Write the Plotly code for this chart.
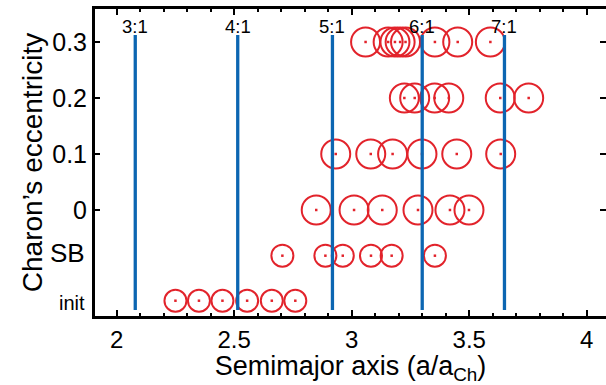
import plotly.graph_objects as go

# ---- data ----
row_labels = ["init", "SB", "0", "0.1", "0.2", "0.3"]
row_y = [-0.162, -0.0816, 0.0, 0.1, 0.2, 0.3]

init_x = [2.25, 2.35, 2.45, 2.555, 2.66, 2.76]
sb_x = [2.705, 2.888, 2.962, 3.082, 3.170, 3.354]
e00_x = [2.849, 3.010, 3.130, 3.282, 3.418, 3.499]
e01_x = [2.932, 3.081, 3.174, 3.299, 3.447, 3.634]
e02_x = [3.224, 3.268, 3.353, 3.413, 3.632, 3.753]
e03_x = [3.059, 3.155, 3.184, 3.206, 3.229, 3.354, 3.451, 3.590]

res_labels = ["3:1", "4:1", "5:1", "6:1", "7:1"]
res_x = [2.079, 2.515, 2.918, 3.300, 3.650]

x_ticks = [2, 2.5, 3, 3.5, 4]
x_ticktext = ["2", "2.5", "3", "3.5", "4"]
y_ticks = [0, 0.1, 0.2, 0.3]
y_ticktext = ["0", "0.1", "0.2", "0.3"]

# ---- style ----
RED = "#e2232b"
BLUE = "#0c66b2"
FONT = "Liberation Sans, Arial, sans-serif"
XR = [1.9077, 4.082]
YR = [-0.1893, 0.3589]
LINE_TOP = 0.3125
LINE_BOT = -0.1786
LABEL_Y = 0.327

rows = [init_x, sb_x, e00_x, e01_x, e02_x, e03_x]
sizes = [22, 22, 29, 29, 29, 29]

fig = go.Figure()
for xs, y, s in zip(rows, row_y, sizes):
    fig.add_trace(go.Scatter(
        x=xs, y=[y] * len(xs), mode="markers",
        marker=dict(symbol="circle-open", size=s, color=RED, line=dict(width=2, color=RED)),
        showlegend=False, hoverinfo="skip"))
    fig.add_trace(go.Scatter(
        x=xs, y=[y] * len(xs), mode="markers",
        marker=dict(symbol="square", size=2.5, color=RED, line=dict(width=0)),
        showlegend=False, hoverinfo="skip"))

for rx, lab in zip(res_x, res_labels):
    fig.add_trace(go.Scatter(
        x=[rx, rx], y=[LINE_BOT, LINE_TOP], mode="lines",
        line=dict(color=BLUE, width=3.3), showlegend=False, hoverinfo="skip"))
    fig.add_annotation(x=rx, y=LABEL_Y, text=lab, showarrow=False,
                       xanchor="center", yanchor="middle",
                       font=dict(family=FONT, size=18.5, color="black"))

# invisible trace so the right-side tick axis is drawn
fig.add_trace(go.Scatter(x=[None], y=[None], yaxis="y2", showlegend=False, hoverinfo="skip"))

for lab, y, fs in [("SB", row_y[1] + 0.004, 26), ("init", row_y[0] - 0.004, 20)]:
    fig.add_annotation(xref="paper", x=0, xshift=-8, y=y, text=lab, showarrow=False,
                       xanchor="right", yanchor="middle",
                       font=dict(family=FONT, size=fs, color="black"))

fig.update_layout(
    width=606, height=385,
    margin=dict(l=95, r=0, t=9, b=69),
    paper_bgcolor="white", plot_bgcolor="white",
    font=dict(family=FONT, color="black"),
    xaxis=dict(
        range=XR, tickvals=x_ticks, ticktext=x_ticktext,
        ticks="inside", ticklen=6, tickwidth=2, tickcolor="black",
        showline=True, linewidth=3, linecolor="black", mirror="ticks",
        showgrid=False, zeroline=False,
        minor=dict(dtick=0.1, tick0=2, ticks="inside", ticklen=3, tickwidth=2, tickcolor="black", showgrid=False),
        tickfont=dict(size=24, family=FONT),
        title=dict(text="Semimajor axis (a/a<sub>Ch</sub>)", font=dict(size=27, family=FONT), standoff=2),
    ),
    yaxis=dict(
        range=YR, tickvals=y_ticks, ticktext=y_ticktext,
        ticks="inside", ticklen=5, tickwidth=2, tickcolor="black",
        showline=True, linewidth=3, linecolor="black", mirror=False,
        showgrid=False, zeroline=False,
        tickfont=dict(size=25, family=FONT),
        title=dict(text="Charon’s eccentricity", font=dict(size=28, family=FONT), standoff=2),
    ),
    yaxis2=dict(
        overlaying="y", side="right", anchor="x", range=YR, tickvals=y_ticks,
        ticks="inside", ticklen=6, tickwidth=2, tickcolor="black",
        showticklabels=False, showline=False, showgrid=False, zeroline=False,
    ),
)

fig.write_html("out.html")
